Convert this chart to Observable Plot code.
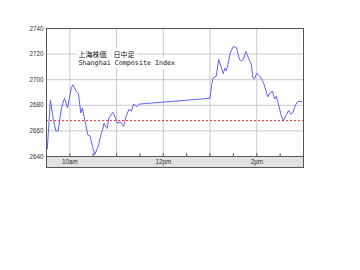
<!DOCTYPE html>
<html>
<head>
<meta charset="utf-8">
<script src="https://cdn.jsdelivr.net/npm/d3@7"></script>
<script src="https://cdn.jsdelivr.net/npm/@observablehq/plot@0.6"></script>
<style>
  html, body { margin: 0; padding: 0; background: #fff; }
  #chart { width: 360px; height: 270px; }
</style>
</head>
<body>
<div id="chart"></div>
<script>
// ---- data ----
const times = [
  "09:31","09:35","09:39","09:42","09:45","09:49","09:53","09:54","09:57","10:02",
  "10:04","10:08","10:11","10:14","10:16","10:19","10:23","10:26","10:29","10:32",
  "10:35","10:37","10:40","10:42","10:44","10:46","10:48","10:50","10:55","10:57",
  "11:01","11:05","11:09","11:12","11:16","11:19","11:22","11:26","11:29","11:30",
  "13:00","13:02","13:04","13:08","13:11","13:14","13:17","13:19","13:21","13:23",
  "13:26","13:30","13:34","13:36","13:38","13:40","13:43","13:46","13:48","13:51",
  "13:53","13:55","13:57","14:00","14:04","14:07","14:09","14:12","14:14","14:17",
  "14:20","14:23","14:25","14:27","14:29","14:31","14:34","14:38","14:41","14:44",
  "14:46","14:50","14:53","14:58"
];
const values = [
  2646,2684,2668,2660,2660,2677,2685.5,2684,2678,2694,
  2696,2691,2689,2674,2678,2669,2657,2656,2648,2641.5,
  2646,2649,2657,2661,2666,2663,2662,2670,2674.5,2672.5,
  2666,2667,2663.5,2671,2677,2675.5,2681,2679,2681,2681,
  2685.5,2696,2701.5,2702.7,2715.8,2710.5,2704.6,2709,2707,2712,
  2721,2726,2725,2719.7,2715.8,2714.5,2716,2722,2719,2714.5,
  2712,2701.5,2700.7,2705,2702.7,2699.5,2697,2691,2686.6,2689.7,
  2691,2685,2687,2683,2678,2672.8,2667.6,2672.8,2676,2673,
  2674,2680.6,2683,2683
];
const prevClose = 2668;
const yTicks = [2640, 2660, 2680, 2700, 2720, 2740];
const hourGrid = [10, 11, 12, 13, 14];
const halfHourTicks = [10, 10.5, 11, 11.5, 12, 12.5, 13, 13.5, 14, 14.5];
const xLabelHours = [10, 12, 14];
const xLabels = ["10am", "12pm", "2pm"];
const titleJa = "上海株価　日中足";
const titleEn = "Shanghai Composite Index";

// ---- build table ----
const toHours = s => { const [h, m] = s.split(":").map(Number); return h + m / 60; };
const data = times.map((t, i) => ({ t: toHours(t), v: values[i] }));
const xDomain = [9.5, 15];
const yBase = 2640;
const yMin = 2631.4; // bottom of the grey time band
const yMax = 2740;

const jaStyle = { frameAnchor: "top-left", dx: 32, dy: 26.5, text: d => d, textAnchor: "start", lineAnchor: "middle", fontSize: 7, fontFamily: "Noto Sans CJK JP" };
const enStyle = { frameAnchor: "top-left", dx: 32, dy: 34.5, text: d => d, textAnchor: "start", lineAnchor: "middle", fontSize: 6.7, fontFamily: "DejaVu Sans Mono" };
const halo = { fill: "#fff", stroke: "#fff", strokeWidth: 7, strokeLinejoin: "round" };

const chart = Plot.plot({
  width: 360,
  height: 270,
  marginLeft: 46,
  marginRight: 57,
  marginTop: 28,
  marginBottom: 103,
  style: { background: "#fff", fontFamily: "Liberation Sans, Arial, sans-serif" },
  x: { domain: xDomain, axis: null },
  y: { domain: [yMin, yMax], axis: null },
  marks: [
    // grey time band
    Plot.rect([0], { x1: xDomain[0], x2: xDomain[1], y1: yMin, y2: yBase, fill: "#e1e1e1" }),
    // grid
    Plot.ruleY(yTicks, { stroke: "#c9c9c9", strokeWidth: 1 }),
    Plot.ruleX(hourGrid, { y1: yBase, y2: yMax, stroke: "#c9c9c9", strokeWidth: 1 }),
    // small half-hour ticks
    Plot.ruleX(halfHourTicks, { y1: yBase, y2: yBase + 2.2, stroke: "#555", strokeWidth: 1 }),
    Plot.ruleY([yBase], { stroke: "#555", strokeWidth: 1 }),
    // previous close
    Plot.ruleY([prevClose], { stroke: "#ff2020", strokeWidth: 1, strokeDasharray: "2,2" }),
    // index line
    Plot.line(data, { x: "t", y: "v", stroke: "#6060ff", strokeWidth: 1, curve: "linear" }),
    // title: white backing first, then the text
    Plot.text([titleJa], { ...jaStyle, ...halo }),
    Plot.text([titleEn], { ...enStyle, ...halo }),
    Plot.text([titleJa], { ...jaStyle, fill: "#111" }),
    Plot.text([titleEn], { ...enStyle, fill: "#111" }),
    // x labels inside band
    Plot.text(xLabelHours, {
      x: d => d, y: (yMin + yBase) / 2, text: (d, i) => xLabels[i],
      fontSize: 6.3, fill: "#333", lineAnchor: "middle"
    }),
    // y axis labels
    Plot.axisY(yTicks, { anchor: "left", tickSize: 0, tickPadding: 3, fontSize: 6.3, color: "#333", label: null, tickFormat: d => String(d) }),
    Plot.frame({ stroke: "#555", strokeWidth: 1 })
  ]
});
document.getElementById("chart").appendChild(chart);
</script>
</body>
</html>
